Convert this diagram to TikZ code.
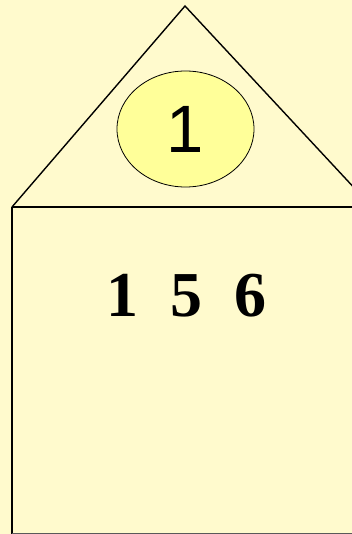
\documentclass[tikz,border=0pt]{standalone}
\usepackage{fontspec}
\setmainfont{Liberation Serif}
\newfontfamily\arialfont{Liberation Sans}
\usetikzlibrary{shapes.geometric}
\definecolor{bgyellow}{RGB}{255,250,205}
\definecolor{ballyellow}{RGB}{255,255,153}
\tikzset{
	roofline/.style={black, line width=1.4pt},
	ballnode/.style={ellipse, draw, thick, fill=ballyellow, minimum width=137pt, minimum height=116pt, inner sep=0pt}
}
\begin{document}
\begin{tikzpicture}[x=1pt, y=-1pt]
	% 背景
	\fill[bgyellow] (0,0) rectangle (352,534);
	\useasboundingbox (0,0) rectangle (352,534);
	
	% 屋顶 (三角形)
	\coordinate (apex) at (185,6);
	\coordinate (roofL) at (12,207);
	\coordinate (roofR) at (372,207);
	\draw[roofline] (roofL) -- (apex) -- (roofR);
	\draw[roofline] (roofL) -- (360,207);
	
	% 房身
	\coordinate (wallB) at (12,540);
	\draw[roofline] (roofL) -- (wallB);
	\draw[gray!70!black, thin] (12,533.5) -- (352,533.5);
	
	% 顶上的编号
	\node[ballnode] (top) at (185.5,129) {\arialfont\fontsize{67}{67}\selectfont 1};
	
	% 房中的数字
	\node (nums) at (186,296) {\fontsize{64}{64}\selectfont\bfseries 1\ \ 5\ \ 6};
\end{tikzpicture}
\end{document}
